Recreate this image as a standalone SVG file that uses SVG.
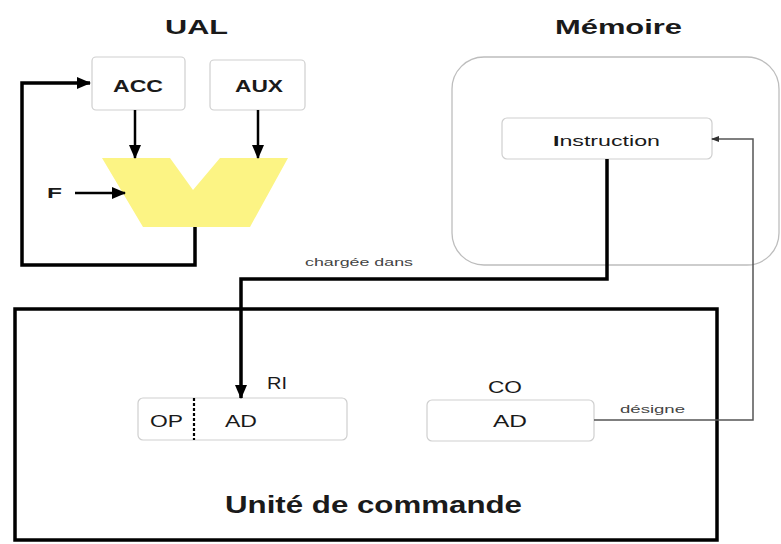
<svg xmlns="http://www.w3.org/2000/svg" width="781" height="544" viewBox="0 0 781 544">
<style>
text{font-family:"Liberation Sans",Arial,sans-serif;fill:#1a1a1a}
.b{font-weight:bold}
.box{fill:#fff;stroke:#cfcfcf;stroke-width:1.2}
.thick{fill:none;stroke:#000;stroke-width:3.5;stroke-linejoin:miter}
.mid{fill:none;stroke:#000;stroke-width:2.5}
.thin{fill:none;stroke:#555;stroke-width:1.5}
.small{font-size:11px;fill:#444}
</style>
<defs>
<marker id="ah" markerUnits="userSpaceOnUse" markerWidth="14" markerHeight="12" refX="13" refY="6" orient="auto">
<path d="M0,0 L14,6 L0,12 Z" fill="#000"/>
</marker>
<marker id="ahs" markerUnits="userSpaceOnUse" markerWidth="8" markerHeight="6" refX="7" refY="3" orient="auto">
<path d="M0,0 L8,3 L0,6 Z" fill="#333"/>
</marker>
</defs>
<rect width="781" height="544" fill="#fff"/>
<text class="b" x="165" y="34" font-size="21" textLength="63" lengthAdjust="spacingAndGlyphs">UAL</text>
<text class="b" x="555" y="34" font-size="21" textLength="127" lengthAdjust="spacingAndGlyphs">Mémoire</text>

<g id="memoire">
<rect x="452" y="57" width="327" height="208" rx="32" fill="none" stroke="#bdbdbd" stroke-width="1.3"/>
</g>
<g id="instruction">
<rect class="box" x="502" y="118" width="210" height="41" rx="5"/>
<text x="553" y="146" font-size="15" textLength="107" lengthAdjust="spacingAndGlyphs"><tspan class="b">I</tspan>nstruction</text>
</g>

<g id="acc">
<rect class="box" x="92" y="57" width="93" height="53" rx="4"/>
<text class="b" x="113" y="92" font-size="16" textLength="50" lengthAdjust="spacingAndGlyphs">ACC</text>
</g>
<g id="aux">
<rect class="box" x="210" y="60" width="95" height="50" rx="4"/>
<text class="b" x="235" y="92" font-size="16" textLength="48" lengthAdjust="spacingAndGlyphs">AUX</text>
</g>
<g id="alu">
<polygon points="102,158 170,158 193,190 220,158 288,158 250,227 143,227" fill="#fcf484"/>
</g>
<g id="f">
<text class="b" x="47" y="198" font-size="14" textLength="15" lengthAdjust="spacingAndGlyphs">F</text>
</g>

<g id="unite">
<rect x="15" y="309" width="702" height="231" fill="none" stroke="#000" stroke-width="3.5"/>
<text class="b" x="225" y="513" font-size="24" textLength="297" lengthAdjust="spacingAndGlyphs">Unité de commande</text>
</g>
<g id="ri">
<rect class="box" x="138" y="398" width="209" height="42" rx="5"/>
<line x1="194" y1="398" x2="194" y2="440" stroke="#000" stroke-width="2.2" stroke-dasharray="3,2"/>
<text x="150" y="427" font-size="17" textLength="33" lengthAdjust="spacingAndGlyphs">OP</text>
<text x="225" y="427" font-size="17" textLength="32" lengthAdjust="spacingAndGlyphs">AD</text>
<text x="267" y="389" font-size="17" textLength="20" lengthAdjust="spacingAndGlyphs">RI</text>
</g>
<g id="co">
<rect class="box" x="427" y="400" width="167" height="41" rx="5"/>
<text x="493" y="427" font-size="17" textLength="34" lengthAdjust="spacingAndGlyphs">AD</text>
<text x="488" y="393" font-size="17" textLength="34" lengthAdjust="spacingAndGlyphs">CO</text>
</g>

<g id="connectors">
<line class="mid" x1="135" y1="110" x2="135" y2="158" marker-end="url(#ah)"/>
<line class="mid" x1="258" y1="110" x2="258" y2="158" marker-end="url(#ah)"/>
<line class="mid" x1="75" y1="193" x2="125" y2="193" stroke-width="2" marker-end="url(#ah)"/>
<polyline class="thick" points="195,227 195,265 22,265 22,83 90,83" marker-end="url(#ah)"/>
<polyline class="thick" points="607,159 607,279 241,279 241,398" marker-end="url(#ah)"/>
<polyline class="thin" points="594,420 753,420 753,139 712,139" marker-end="url(#ahs)"/>
<text class="small" x="305" y="266" textLength="108" lengthAdjust="spacingAndGlyphs">chargée dans</text>
<text class="small" x="620" y="413" textLength="65" lengthAdjust="spacingAndGlyphs">désigne</text>
</g>
</svg>
